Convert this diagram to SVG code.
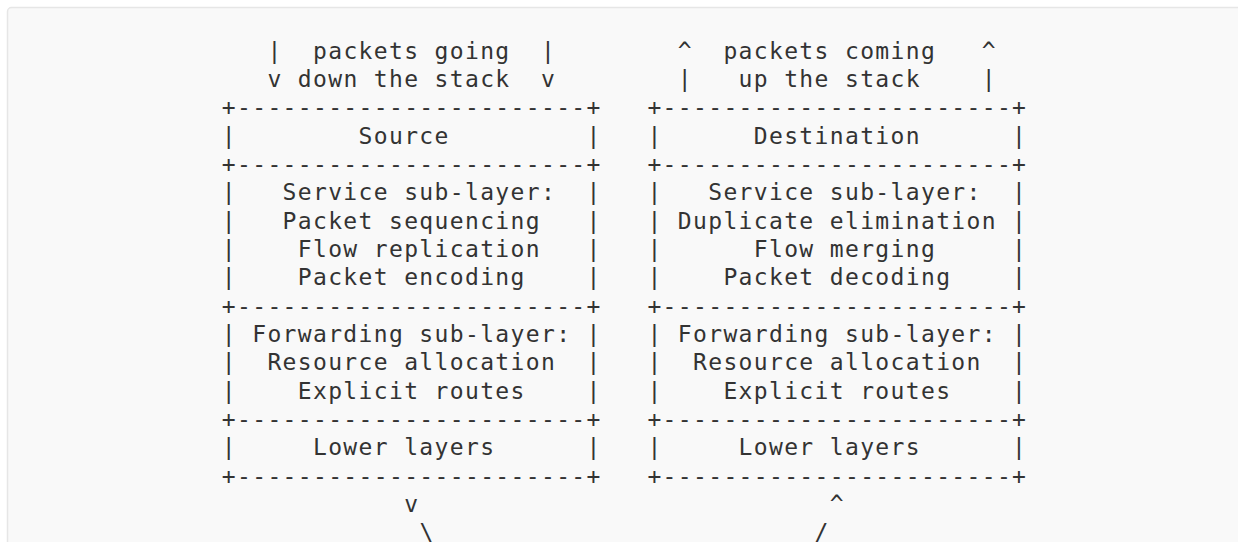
<svg xmlns="http://www.w3.org/2000/svg" width="1238" height="542" viewBox="0 0 1238 542" xml:space="preserve">
<style>
.t { font-family: "DejaVu Sans Mono", "Liberation Mono", monospace; font-size: 23px; letter-spacing: 1.35px; fill: #333333; white-space: pre; }
</style>
<rect x="0" y="0" width="1238" height="542" fill="#ffffff"/>
<rect x="7.5" y="7.5" width="1250" height="560" rx="4" fill="#f9f9f9" stroke="#e6e6e6" stroke-width="1.5"/>
<g id="src-label">
<text class="t" x="267.4" y="58.5">|  packets going  |</text>
<text class="t" x="267.4" y="86.85">v down the stack  v</text>
</g>
<g id="dst-label">
<text class="t" x="677.8" y="58.5">^  packets coming   ^</text>
<text class="t" x="677.8" y="86.85">|   up the stack    |</text>
</g>
<g id="source-stack">
<text class="t" x="221.8" y="115.2">+-----------------------+</text>
<text class="t" x="221.8" y="143.55">|        Source         |</text>
<text class="t" x="221.8" y="171.9">+-----------------------+</text>
<text class="t" x="221.8" y="200.25">|   Service sub-layer:  |</text>
<text class="t" x="221.8" y="228.6">|   Packet sequencing   |</text>
<text class="t" x="221.8" y="256.95">|    Flow replication   |</text>
<text class="t" x="221.8" y="285.3">|    Packet encoding    |</text>
<text class="t" x="221.8" y="313.65">+-----------------------+</text>
<text class="t" x="221.8" y="342">| Forwarding sub-layer: |</text>
<text class="t" x="221.8" y="370.35">|  Resource allocation  |</text>
<text class="t" x="221.8" y="398.7">|    Explicit routes    |</text>
<text class="t" x="221.8" y="427.05">+-----------------------+</text>
<text class="t" x="221.8" y="455.4">|     Lower layers      |</text>
<text class="t" x="221.8" y="483.75">+-----------------------+</text>
</g>
<g id="destination-stack">
<text class="t" x="647.4" y="115.2">+-----------------------+</text>
<text class="t" x="647.4" y="143.55">|      Destination      |</text>
<text class="t" x="647.4" y="171.9">+-----------------------+</text>
<text class="t" x="647.4" y="200.25">|   Service sub-layer:  |</text>
<text class="t" x="647.4" y="228.6">| Duplicate elimination |</text>
<text class="t" x="647.4" y="256.95">|      Flow merging     |</text>
<text class="t" x="647.4" y="285.3">|    Packet decoding    |</text>
<text class="t" x="647.4" y="313.65">+-----------------------+</text>
<text class="t" x="647.4" y="342">| Forwarding sub-layer: |</text>
<text class="t" x="647.4" y="370.35">|  Resource allocation  |</text>
<text class="t" x="647.4" y="398.7">|    Explicit routes    |</text>
<text class="t" x="647.4" y="427.05">+-----------------------+</text>
<text class="t" x="647.4" y="455.4">|     Lower layers      |</text>
<text class="t" x="647.4" y="483.75">+-----------------------+</text>
</g>
<g id="connectors">
<text class="t" x="404.2" y="512.1">v</text>
<text class="t" x="419.4" y="540.45">\</text>
<text class="t" x="829.8" y="512.1">^</text>
<text class="t" x="814.6" y="540.45">/</text>
</g>
</svg>
